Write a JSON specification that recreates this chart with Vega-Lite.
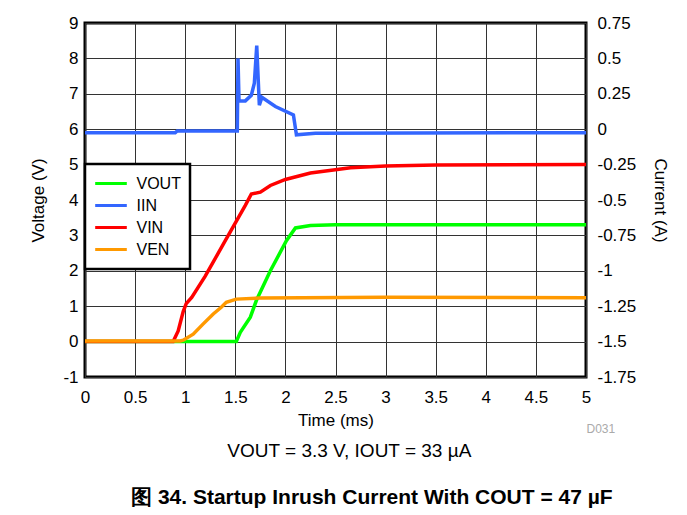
{
  "$schema": "https://vega.github.io/schema/vega-lite/v6.json",
  "width": 501,
  "height": 354,
  "padding": {"left": 29, "top": 14, "right": 5, "bottom": 5},
  "background": "white",
  "config": {
    "font": "Liberation Sans, Arial, sans-serif",
    "view": {"stroke": "black", "strokeWidth": 3},
    "axis": {
      "labelFontSize": 17,
      "titleFontSize": 17,
      "titleFontWeight": "normal",
      "labelColor": "black",
      "titleColor": "black",
      "ticks": false,
      "domain": false,
      "gridColor": "#333333",
      "gridOpacity": 1,
      "gridWidth": 1,
      "labelExpr": "datum.value + ''"
    }
  },
  "title": {
    "text": "VOUT = 3.3 V, IOUT = 33 µA",
    "subtitle": "\u2800\u2800\u2800图 34. Startup Inrush Current With COUT = 47 µF",
    "orient": "bottom",
    "anchor": "middle",
    "frame": "bounds",
    "fontSize": 19,
    "fontWeight": "normal",
    "color": "black",
    "subtitleFontSize": 21,
    "subtitleFontWeight": "bold",
    "subtitleColor": "black",
    "subtitlePadding": 26,
    "offset": 8
  },
  "datasets": {
    "volt": [
      {"s": "VOUT", "t": 0, "v": 0},
      {"s": "VOUT", "t": 1.0, "v": 0},
      {"s": "VOUT", "t": 1.51, "v": 0},
      {"s": "VOUT", "t": 1.55, "v": 0.26},
      {"s": "VOUT", "t": 1.65, "v": 0.69},
      {"s": "VOUT", "t": 1.71, "v": 1.16},
      {"s": "VOUT", "t": 1.85, "v": 2.0},
      {"s": "VOUT", "t": 2.01, "v": 2.85},
      {"s": "VOUT", "t": 2.1, "v": 3.21},
      {"s": "VOUT", "t": 2.25, "v": 3.28},
      {"s": "VOUT", "t": 2.5, "v": 3.3},
      {"s": "VOUT", "t": 5, "v": 3.3},
      {"s": "VIN", "t": 0, "v": 0},
      {"s": "VIN", "t": 0.88, "v": 0},
      {"s": "VIN", "t": 0.93, "v": 0.3},
      {"s": "VIN", "t": 0.98, "v": 0.85},
      {"s": "VIN", "t": 1.01, "v": 1.07},
      {"s": "VIN", "t": 1.065, "v": 1.25},
      {"s": "VIN", "t": 1.2, "v": 1.85},
      {"s": "VIN", "t": 1.4, "v": 2.85},
      {"s": "VIN", "t": 1.6, "v": 3.85},
      {"s": "VIN", "t": 1.66, "v": 4.17},
      {"s": "VIN", "t": 1.75, "v": 4.22},
      {"s": "VIN", "t": 1.85, "v": 4.41},
      {"s": "VIN", "t": 2.0, "v": 4.58},
      {"s": "VIN", "t": 2.25, "v": 4.76},
      {"s": "VIN", "t": 2.65, "v": 4.91},
      {"s": "VIN", "t": 3.0, "v": 4.96},
      {"s": "VIN", "t": 3.5, "v": 4.99},
      {"s": "VIN", "t": 5, "v": 5.0},
      {"s": "VEN", "t": 0, "v": 0.02},
      {"s": "VEN", "t": 0.95, "v": 0.02},
      {"s": "VEN", "t": 0.98, "v": 0.04},
      {"s": "VEN", "t": 1.08, "v": 0.21},
      {"s": "VEN", "t": 1.18, "v": 0.5},
      {"s": "VEN", "t": 1.28, "v": 0.78},
      {"s": "VEN", "t": 1.36, "v": 0.97},
      {"s": "VEN", "t": 1.41, "v": 1.11},
      {"s": "VEN", "t": 1.51, "v": 1.2},
      {"s": "VEN", "t": 1.75, "v": 1.23},
      {"s": "VEN", "t": 3.0, "v": 1.25},
      {"s": "VEN", "t": 5, "v": 1.24}
    ],
    "curr": [
      {"s": "IIN", "t": 0, "a": -0.025},
      {"s": "IIN", "t": 0.9, "a": -0.025},
      {"s": "IIN", "t": 0.92, "a": -0.012},
      {"s": "IIN", "t": 1.52, "a": -0.012},
      {"s": "IIN", "t": 1.527, "a": 0.5},
      {"s": "IIN", "t": 1.537, "a": 0.2},
      {"s": "IIN", "t": 1.6, "a": 0.2},
      {"s": "IIN", "t": 1.66, "a": 0.24},
      {"s": "IIN", "t": 1.69, "a": 0.325},
      {"s": "IIN", "t": 1.714, "a": 0.59},
      {"s": "IIN", "t": 1.74, "a": 0.17},
      {"s": "IIN", "t": 1.765, "a": 0.225},
      {"s": "IIN", "t": 1.9, "a": 0.16},
      {"s": "IIN", "t": 2.08, "a": 0.1},
      {"s": "IIN", "t": 2.11, "a": -0.04},
      {"s": "IIN", "t": 2.3, "a": -0.028},
      {"s": "IIN", "t": 5, "a": -0.025}
    ]
  },
  "layer": [
    {
      "data": {"name": "volt"},
      "mark": {"type": "line", "strokeWidth": 3.5},
      "encoding": {
        "x": {
          "field": "t", "type": "quantitative",
          "scale": {"domain": [0, 5], "nice": false},
          "axis": {"orient": "bottom", "title": "Time (ms)", "values": [0, 0.5, 1, 1.5, 2, 2.5, 3, 3.5, 4, 4.5, 5], "labelPadding": 12, "titlePadding": 7, "labelFlush": false}
        },
        "y": {
          "field": "v", "type": "quantitative",
          "scale": {"domain": [-1, 9], "nice": false},
          "axis": {"title": "Voltage (V)", "values": [-1, 0, 1, 2, 3, 4, 5, 6, 7, 8, 9], "labelPadding": 7, "titlePadding": 15}
        },
        "color": {
          "field": "s", "type": "nominal",
          "scale": {"domain": ["VOUT", "IIN", "VIN", "VEN"], "range": ["#00ff00", "#3366ff", "#ff0000", "#ff9900"]},
          "legend": {
            "title": null,
            "orient": "none",
            "legendX": 0,
            "legendY": 141,
            "strokeColor": "black",
            "fillColor": "white",
            "padding": 8.5,
            "symbolType": "stroke",
            "symbolSize": 1000,
            "symbolStrokeWidth": 3,
            "labelFontSize": 16,
            "labelColor": "black",
            "rowPadding": 0,
            "clipHeight": 22,
            "labelOffset": 8,
            "encode": {"legend": {"update": {"strokeWidth": {"value": 2.5}}}}
          }
        }
      }
    },
    {
      "data": {"name": "curr"},
      "mark": {"type": "line", "strokeWidth": 3.5},
      "encoding": {
        "x": {
          "field": "t", "type": "quantitative",
          "scale": {"domain": [0, 5], "nice": false},
          "axis": {"orient": "bottom", "title": "D031", "labels": false, "grid": false, "offset": 46, "titleAnchor": "end", "titleAlign": "left", "titleColor": "#aaaaaa", "titleFontSize": 12, "titlePadding": 0}
        },
        "y": {
          "field": "a", "type": "quantitative",
          "scale": {"domain": [-1.75, 0.75], "nice": false},
          "axis": {"orient": "right", "title": "Current (A)", "grid": false, "values": [-1.75, -1.5, -1.25, -1, -0.75, -0.5, -0.25, 0, 0.25, 0.5, 0.75], "labelPadding": 11, "titlePadding": 15, "titleAngle": 90}
        },
        "color": {"field": "s", "type": "nominal"}
      }
    }
  ],
  "resolve": {"scale": {"y": "independent", "x": "independent"}}
}
